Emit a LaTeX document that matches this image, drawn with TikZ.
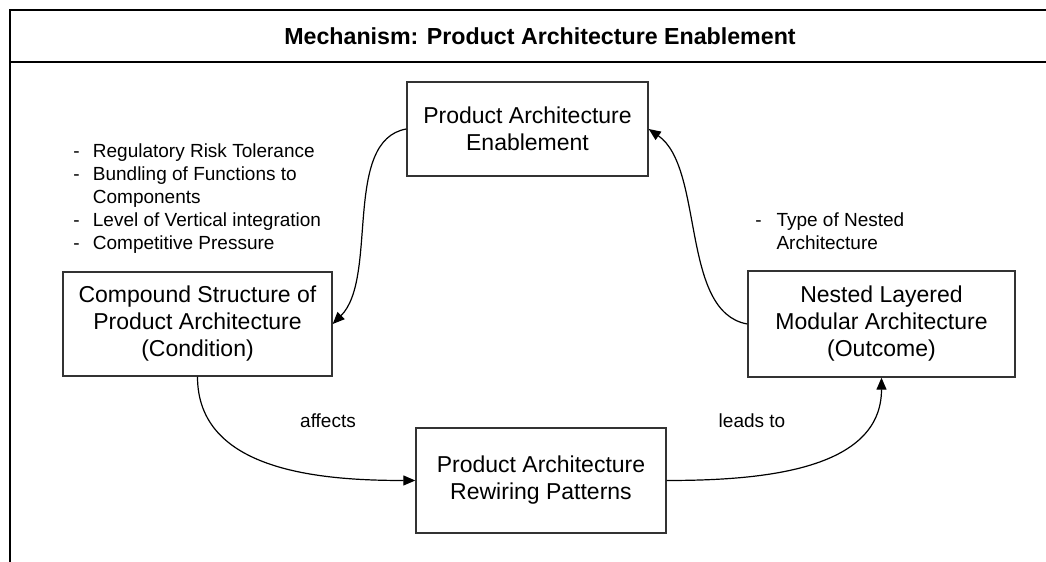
\documentclass[tikz,border=0pt]{standalone}
\usepackage{fontspec}
\setmainfont{Liberation Sans}
\usetikzlibrary{positioning}
\usetikzlibrary{arrows.meta}

\begin{document}
\begin{tikzpicture}[x=0.5pt,y=0.5pt,>={Triangle[length=6pt,width=5pt]},
	box/.style={rectangle,draw=black!80,line width=0.7pt,align=center,
		inner sep=0pt,font=\fontsize{11.5}{13.5}\selectfont},
	factors/.style={anchor=west,inner sep=0pt,font=\fontsize{9.5}{11.5}\selectfont},
	frame/.style={line width=1.4pt}]
	
	\useasboundingbox (0,0) rectangle (1046,562);
	
	% frame and heading
	\draw[frame] (1046,552) -- (10,552) -- (10,0);
	\draw[frame] (10,500) -- (1046,500);
	\node[font=\bfseries\fontsize{11.6}{14}\selectfont] (title) at (540,526) {Mechanism: Product Architecture Enablement};
	
	\node[box, minimum width=120.5pt, minimum height=47pt] (enable) at (527.5,433) {Product Architecture\\Enablement};
	\node[box, minimum width=134.5pt, minimum height=52pt] (cond) at (197.5,238) {Compound Structure of\\Product Architecture\\(Condition)};
	\node[box, minimum width=133.5pt, minimum height=53pt] (outcome) at (881.5,238) {Nested Layered\\Modular Architecture\\(Outcome)};
	\node[box, minimum width=125pt, minimum height=52.5pt] (rewire) at (541,81.5) {Product Architecture\\Rewiring Patterns};
	
	% moderating factors
	\node[factors] (drivers) at (73,363.5) {\begin{tabular}{@{}l@{\hspace{6.6pt}}l@{}}
		-&Regulatory Risk Tolerance\\
		-&Bundling of Functions to\\
		&Components\\
		-&Level of Vertical integration\\
		-&Competitive Pressure
	\end{tabular}};
	\node[factors] (nesting) at (755,328.5) {\begin{tabular}{@{}l@{\hspace{7.4pt}}l@{}}
		-&Type of Nested\\
		&Architecture
	\end{tabular}};
	
	\node[factors, anchor=center] (affects) at (328,141) {affects};
	\node[factors, anchor=center] (leads) at (752,141) {leads to};
	
	\path[->, line width=0.6pt]
	(enable.west) edge[out=190, in=45, looseness=0.8] (cond.east)
	(outcome.west) edge[out=170, in=-35, looseness=0.8] (enable.east)
	(cond.south) edge[out=-90, in=180] (rewire.west)
	(rewire.east) edge[out=0, in=-90] (outcome.south);
\end{tikzpicture}
\end{document}
